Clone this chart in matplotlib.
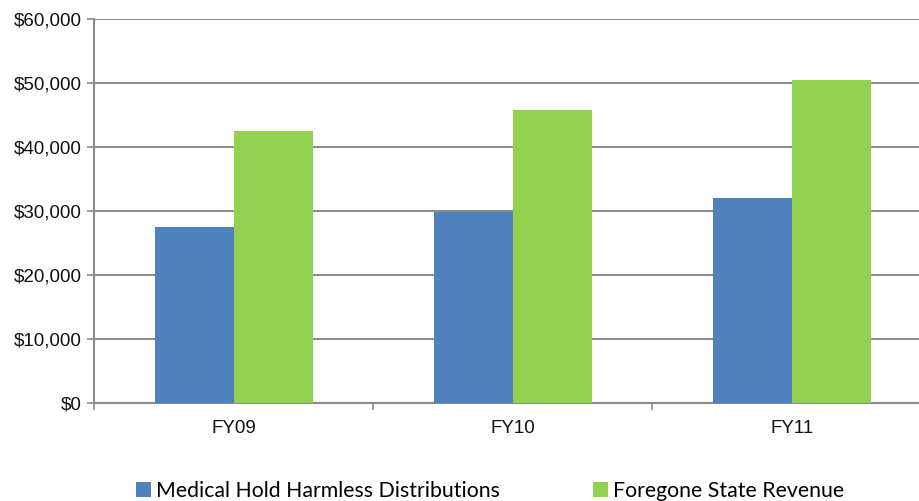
import matplotlib
matplotlib.use('Agg')
import matplotlib.pyplot as plt
import numpy as np

# Fiscal year totals
years = ['FY09', 'FY10', 'FY11']
hold_harmless = [27600, 29900, 32000]
foregone_revenue = [42500, 45800, 50500]
series_names = ['Medical Hold Harmless Distributions', 'Foregone State Revenue']

blue = '#4f81bd'
green = '#92d050'
grid_grey = '#8c8c8c'

fig = plt.figure(figsize=(9.2, 5.01), dpi=100)
ax = fig.add_axes([0.1025, 0.195, 0.91, 0.767])

x = np.arange(len(years))
w = 0.283
b1 = ax.bar(x - w / 2, hold_harmless, w, color=blue, zorder=3)
b2 = ax.bar(x + w / 2, foregone_revenue, w, color=green, zorder=3)

ax.set_ylim(0, 60000)
ax.set_xlim(-0.5, len(years) - 0.5)
ax.set_yticks(np.arange(0, 60001, 10000))
ax.yaxis.set_major_formatter(matplotlib.ticker.FuncFormatter(lambda v, p: '${:,.0f}'.format(v)))
ax.yaxis.grid(True, color=grid_grey, linewidth=1.5, zorder=0)

ax.set_xticks(x)
ax.set_xticklabels(years)
ax.set_xticks(np.arange(-0.5, len(years), 1.0), minor=True)
ax.tick_params(axis='x', which='major', length=0, pad=12)
ax.tick_params(axis='x', which='minor', length=5, color=grid_grey, width=1.2)
ax.tick_params(axis='y', length=5, color=grid_grey, width=1.2, pad=4)

for lbl in ax.get_xticklabels() + ax.get_yticklabels():
    lbl.set_fontfamily('Liberation Sans')
    lbl.set_fontsize(13.5)
    lbl.set_color('#111111')

for side in ['top', 'right']:
    ax.spines[side].set_visible(False)
for side in ['left', 'bottom']:
    ax.spines[side].set_color(grid_grey)
    ax.spines[side].set_linewidth(1.5)

leg = fig.legend([b1, b2], series_names, loc='center left', bbox_to_anchor=(0.1478, 0.02),
                 ncol=2, frameon=False, borderpad=0, borderaxespad=0,
                 handlelength=0.7, handleheight=0.7,
                 handletextpad=0.23, columnspacing=4.4,
                 prop={'family': 'Lato', 'size': 15.3})

fig.savefig('out.png', dpi=100)
